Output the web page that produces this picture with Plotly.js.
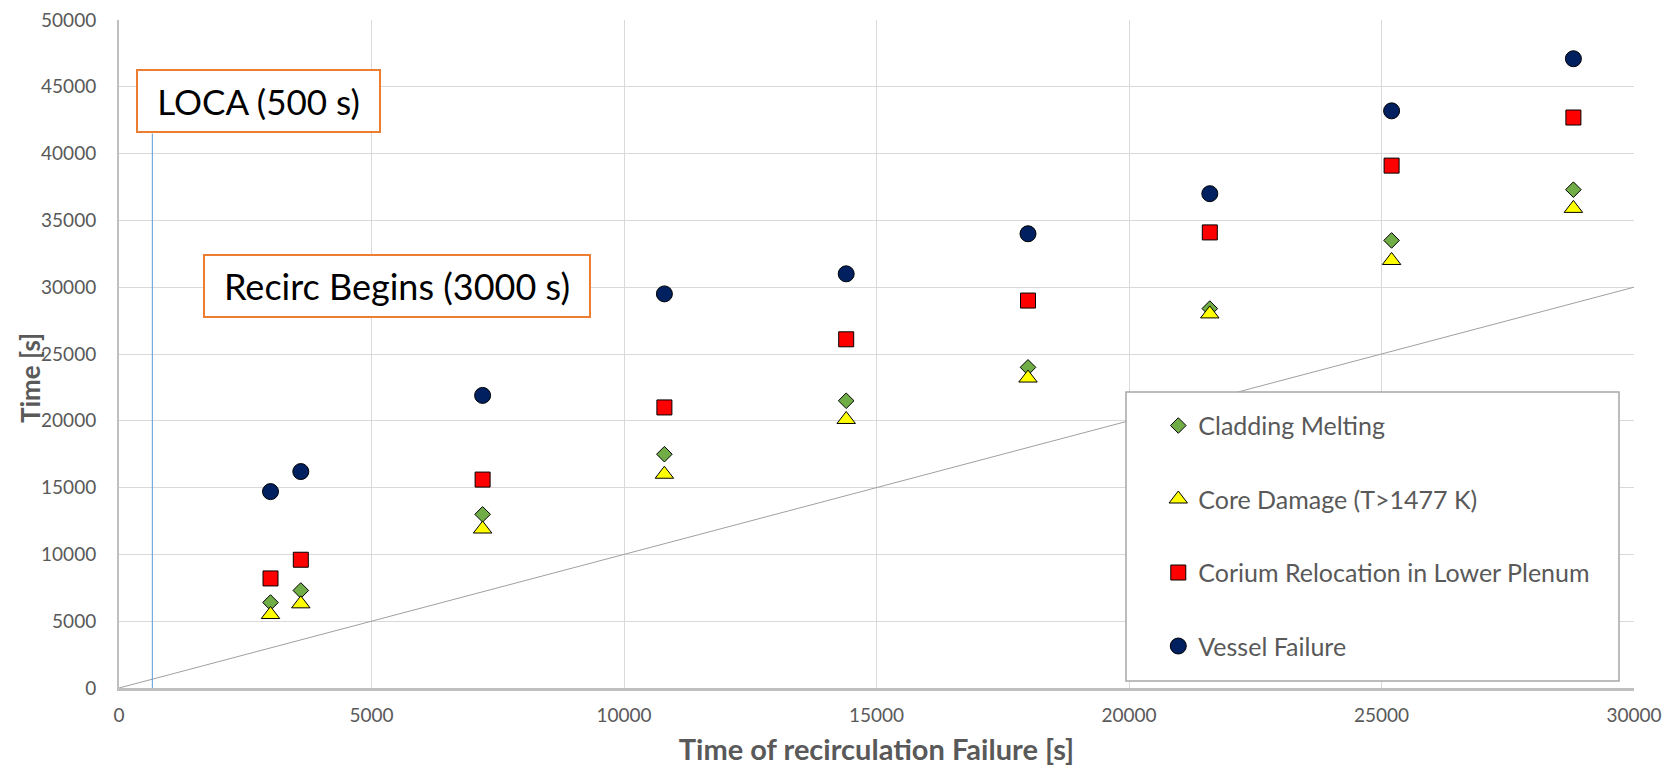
<!DOCTYPE html>
<html>
<head>
<meta charset="utf-8">
<script src="https://cdn.plot.ly/plotly-3.0.1.min.js"></script>
<style>
  html, body { margin: 0; padding: 0; background: #ffffff; }
  #chart { width: 1669px; height: 769px; }
</style>
</head>
<body>
<div id="chart"></div>
<script>
// ---- Data ----
const recircFailureTime = [3000, 3600, 7200, 10800, 14400, 18000, 21600, 25200, 28800];
const claddingMelting   = [6400, 7300, 13000, 17500, 21500, 24000, 28400, 33500, 37300];
const coreDamage        = [5500, 6300, 11900, 16000, 20100, 23200, 28000, 32000, 35900];
const coriumRelocation  = [8200, 9600, 15600, 21000, 26100, 29000, 34100, 39100, 42700];
const vesselFailure     = [14700, 16200, 21900, 29500, 31000, 34000, 37000, 43200, 47100];

const seriesNames = ["Cladding Melting", "Core Damage (T>1477 K)", "Corium Relocation in Lower Plenum", "Vessel Failure"];

// reference lines
const diagonalX = [0, 30000];
const diagonalY = [0, 30000];
const locaX = [660, 660];
const locaY = [-300, 41500];

const annotationTexts = ["LOCA (500 s)", "Recirc Begins (3000 s)"];
const xAxisTitle = "Time of recirculation Failure [s]";
const yAxisTitle = "Time [s]";

const FONT = "Lato, 'Open Sans', sans-serif";

const traces = [
  { x: diagonalX, y: diagonalY, mode: "lines", line: {color: "#A0A0A0", width: 1},
    showlegend: false, hoverinfo: "skip" },
  { x: locaX, y: locaY, mode: "lines", line: {color: "#5B9BD5", width: 1},
    showlegend: false, hoverinfo: "skip", cliponaxis: false },
  { x: recircFailureTime, y: claddingMelting, name: seriesNames[0], mode: "markers", legendgroup: "a",
    marker: {symbol: "diamond", size: 12, color: "#70AD47", line: {color: "#000000", width: 1}} },
  { x: recircFailureTime, y: coreDamage, name: seriesNames[1], mode: "markers", legendgroup: "b",
    marker: {symbol: "triangle-up", size: 16, color: "#FFFF00", line: {color: "#000000", width: 1}} },
  { x: recircFailureTime, y: coriumRelocation, name: seriesNames[2], mode: "markers", legendgroup: "c",
    marker: {symbol: "square", size: 15, color: "#FF0000", line: {color: "#000000", width: 1}} },
  { x: recircFailureTime, y: vesselFailure, name: seriesNames[3], mode: "markers", legendgroup: "d",
    marker: {symbol: "circle", size: 16, color: "#002060", line: {color: "#000000", width: 1}} }
];

const layout = {
  width: 1669, height: 769,
  margin: {l: 119, r: 35, t: 20, b: 81},
  paper_bgcolor: "#ffffff", plot_bgcolor: "#ffffff",
  font: {family: FONT, color: "#595959"},
  showlegend: true,
  xaxis: {
    range: [0, 30000], dtick: 5000, tick0: 0, tickformat: "d",
    showgrid: true, gridcolor: "#D9D9D9", gridwidth: 1,
    showline: true, linecolor: "#BFBFBF", linewidth: 2.5,
    zeroline: false, ticks: "", ticklabelstandoff: 9,
    tickfont: {family: FONT, size: 19, color: "#595959"},
    title: {text: xAxisTitle, standoff: 15, font: {family: FONT, size: 29, color: "#595959", weight: "bold"}}
  },
  yaxis: {
    range: [0, 50000], dtick: 5000, tick0: 0, tickformat: "d",
    showgrid: true, gridcolor: "#D9D9D9", gridwidth: 1,
    showline: true, linecolor: "#BFBFBF", linewidth: 2,
    zeroline: false, ticks: "", ticklabelstandoff: 17,
    tickfont: {family: FONT, size: 19, color: "#595959"}
  },
  legend: {
    x: 0.686, y: 0.427, xanchor: "left", yanchor: "top",
    bgcolor: "rgba(0,0,0,0)", borderwidth: 0,
    font: {family: FONT, size: 25, color: "#595959"},
    tracegroupgap: 38, traceorder: "grouped"
  },
  shapes: [
    { type: "rect", xref: "paper", yref: "paper", layer: "above",
      x0: (1126 - 119) / 1515, x1: (1619 - 119) / 1515,
      y0: (688 - 681) / 668, y1: (688 - 392) / 668,
      fillcolor: "#ffffff", line: {color: "#A6A6A6", width: 1.5} }
  ],
  annotations: [
    { text: yAxisTitle, xref: "paper", yref: "paper",
      x: (30 - 119) / 1515, y: (688 - 378) / 668, xanchor: "center", yanchor: "middle",
      textangle: -90, showarrow: false,
      font: {family: FONT, size: 26, color: "#595959", weight: "bold"} },
    { text: annotationTexts[0], xref: "paper", yref: "paper",
      x: (136 - 119) / 1515, y: (688 - 69) / 668, xanchor: "left", yanchor: "top",
      showarrow: false, width: 241, height: 60, align: "center", valign: "middle",
      bgcolor: "#ffffff", bordercolor: "#ED7D31", borderwidth: 2, borderpad: 0,
      font: {family: FONT, size: 35, color: "#000000"} },
    { text: annotationTexts[1], xref: "paper", yref: "paper",
      x: (203 - 119) / 1515, y: (688 - 254) / 668, xanchor: "left", yanchor: "top",
      showarrow: false, width: 384, height: 60, align: "center", valign: "middle",
      bgcolor: "#ffffff", bordercolor: "#ED7D31", borderwidth: 2, borderpad: 0,
      font: {family: FONT, size: 36, color: "#000000"} }
  ]
};

Plotly.newPlot("chart", traces, layout, {displayModeBar: false, staticPlot: true});
</script>
</body>
</html>
